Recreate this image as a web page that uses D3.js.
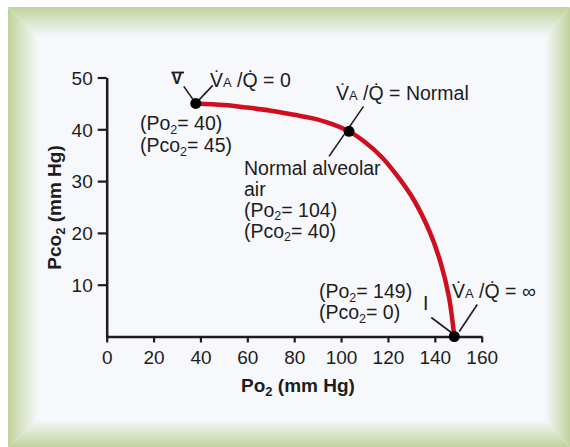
<!DOCTYPE html>
<html><head><meta charset="utf-8">
<script src="https://cdn.jsdelivr.net/npm/d3@7"></script>
<style>html,body{margin:0;padding:0;background:#fff;}svg{display:block;font-family:"Liberation Sans",Arial,Helvetica,sans-serif;}</style>
</head><body>
<svg id="c" width="570" height="447"></svg>
<script>
// Data
const xTicks = [0, 20, 40, 60, 80, 100, 120, 140, 160];
const yTicks = [10, 20, 30, 40, 50];
const curvePo2  = [38, 50, 60, 70, 80, 87, 95, 103.4, 110, 117, 124, 131, 138, 142.5, 146, 148.3];
const curvePco2 = [45, 44.7, 44.2, 43.6, 42.8, 42.2, 41.2, 39.6, 37.6, 34.8, 31, 26.4, 20, 14.2, 7.7, 0];
const pointPo2  = [38, 103.4, 148.3];
const pointPco2 = [45, 39.6, 0];
const xTitle = "Po";
const yTitle = "Pco";

const svg = d3.select("#c");
const W = 570, H = 447;
const outer = "#c0d29c", inner = "#f6f8fc";
const defs = svg.append("defs");
function grad(id, x1, y1, x2, y2) {
  const g = defs.append("linearGradient").attr("id", id).attr("gradientUnits", "userSpaceOnUse")
    .attr("x1", x1).attr("y1", y1).attr("x2", x2).attr("y2", y2);
  g.append("stop").attr("offset", 0).attr("stop-color", outer);
  g.append("stop").attr("offset", 1).attr("stop-color", inner);
}
const L = 8, T = 7, R = 570, B = 447, iL = 38, iT = 37, iR = 545, iB = 420;
grad("gt", 0, T, 0, iT); grad("gl", L, 0, iL, 0); grad("gr", R, 0, iR, 0); grad("gb", 0, B, 0, iB);
svg.append("rect").attr("x", 0).attr("y", 0).attr("width", W).attr("height", H).attr("fill", "#fff");
svg.append("rect").attr("x", iL).attr("y", iT).attr("width", iR - iL).attr("height", iB - iT).attr("fill", inner);
const poly = (pts, f) => svg.append("polygon").attr("points", pts.map(p => p.join(",")).join(" ")).attr("fill", f);
poly([[L, T], [R, T], [iR, iT], [iL, iT]], "url(#gt)");
poly([[L, T], [iL, iT], [iL, iB], [L, B]], "url(#gl)");
poly([[R, T], [R, B], [iR, iB], [iR, iT]], "url(#gr)");
poly([[L, B], [iL, iB], [iR, iB], [R, B]], "url(#gb)");

const x = d3.scaleLinear().domain([0, 160]).range([106.7, 481.7]);
const y = d3.scaleLinear().domain([0, 50]).range([336.5, 77.5]);
const ink = "#1e1c1c";
const FS = 19.5;

// axes
const gx = svg.append("g").attr("transform", `translate(0,${y(0)})`)
  .call(d3.axisBottom(x).tickValues(xTicks).tickSize(6).tickSizeOuter(0).tickPadding(8));
const gy = svg.append("g").attr("transform", `translate(${x(0)},0)`)
  .call(d3.axisLeft(y).tickValues(yTicks).tickSize(9).tickSizeOuter(0).tickPadding(5));
[gx, gy].forEach(g => {
  g.select(".domain").attr("stroke", ink).attr("stroke-width", 2.5);
  g.selectAll(".tick line").attr("stroke", ink).attr("stroke-width", 2.2);
  g.selectAll(".tick text").attr("fill", ink).style("font-size", "19px")
    .style("font-family", '"Liberation Sans",Arial,sans-serif');
});
gx.selectAll(".tick text").attr("dy", "0.71em");
gy.selectAll(".tick text").attr("dy", "0.36em");

// curve
const pts = curvePo2.map((d, i) => [d, curvePco2[i]]);
svg.append("path").datum(pts)
  .attr("d", d3.line().x(d => x(d[0])).y(d => y(d[1])).curve(d3.curveCatmullRom.alpha(0.5)))
  .attr("fill", "none").attr("stroke", "#cf0f1e").attr("stroke-width", 4.5).attr("stroke-linecap", "round");

// leader lines (anchored to points)
const p0 = [x(pointPo2[0]), y(pointPco2[0])], p1 = [x(pointPo2[1]), y(pointPco2[1])], p2 = [x(pointPo2[2]), y(pointPco2[2])];
const seg = (a, b) => svg.append("line").attr("x1", a[0]).attr("y1", a[1]).attr("x2", b[0]).attr("y2", b[1])
  .attr("stroke", ink).attr("stroke-width", 1.6);
seg([p0[0] - 12, p0[1] - 17], p0);
seg(p0, [p0[0] + 17, p0[1] - 18]);
seg([p1[0] + 14.5, p1[1] - 25], [p1[0] - 20, p1[1] + 25]);
seg([p2[0] - 23, p2[1] - 19], [p2[0] - 3, p2[1] - 4]);
seg([p2[0] + 5, p2[1] - 5], [p2[0] + 23, p2[1] - 32]);

// points
svg.selectAll("circle.pt").data(pointPo2).enter().append("circle").attr("class", "pt")
  .attr("cx", (d) => x(d)).attr("cy", (d, i) => y(pointPco2[i])).attr("r", 5.5).attr("fill", "#000");

// text helpers
function vq(xp, yp, rest) {
  const t = svg.append("text").attr("x", xp).attr("y", yp).attr("fill", ink).style("font-size", FS + "px");
  t.append("tspan").text("V\u0307");
  t.append("tspan").style("font-size", "13px").text("A");
  t.append("tspan").text(" /Q\u0307" + rest);
  return t;
}
function sub(xp, yp, pre, s, post) {
  const t = svg.append("text").attr("x", xp).attr("y", yp).attr("fill", ink).style("font-size", FS + "px");
  t.append("tspan").text(pre);
  t.append("tspan").attr("dy", 3.5).style("font-size", "12.5px").text(s);
  t.append("tspan").attr("dy", -3.5).text(post);
  return t;
}
vq(210, 87, " = 0");
vq(336, 100, " = Normal");
vq(452, 298, " = \u221e");

// V-bar
svg.append("text").attr("x", 171.5).attr("y", 84).attr("fill", ink).style("font-size", "16px").style("font-weight", "bold").text("V");
svg.append("line").attr("x1", 171.5).attr("x2", 184).attr("y1", 72.5).attr("y2", 72.5).attr("stroke", ink).attr("stroke-width", 1.8);

sub(140, 130, "(Po", "2", "= 40)");
sub(140, 152, "(Pco", "2", "= 45)");
svg.append("text").attr("x", 244).attr("y", 175).attr("fill", ink).style("font-size", FS + "px").text("Normal alveolar");
svg.append("text").attr("x", 244).attr("y", 195.5).attr("fill", ink).style("font-size", FS + "px").text("air");
sub(244, 216.5, "(Po", "2", "= 104)");
sub(244, 237.5, "(Pco", "2", "= 40)");
sub(319, 298, "(Po", "2", "= 149)");
sub(319, 319, "(Pco", "2", "= 0)");
svg.append("text").attr("x", 423).attr("y", 310).attr("fill", ink).style("font-size", FS + "px").text("I");

// axis titles
const xt = svg.append("text").attr("x", 298).attr("y", 392).attr("text-anchor", "middle")
  .attr("fill", ink).style("font-size", "19px").style("font-weight", "bold");
xt.append("tspan").text(xTitle);
xt.append("tspan").attr("dy", 4).style("font-size", "13px").text("2");
xt.append("tspan").attr("dy", -4).text(" (mm Hg)");
const yt = svg.append("text").attr("transform", "translate(61,207.5) rotate(-90)").attr("text-anchor", "middle")
  .attr("fill", ink).style("font-size", "19px").style("font-weight", "bold");
yt.append("tspan").text(yTitle);
yt.append("tspan").attr("dy", 4).style("font-size", "13px").text("2");
yt.append("tspan").attr("dy", -4).text(" (mm Hg)");
</script>
</body></html>
